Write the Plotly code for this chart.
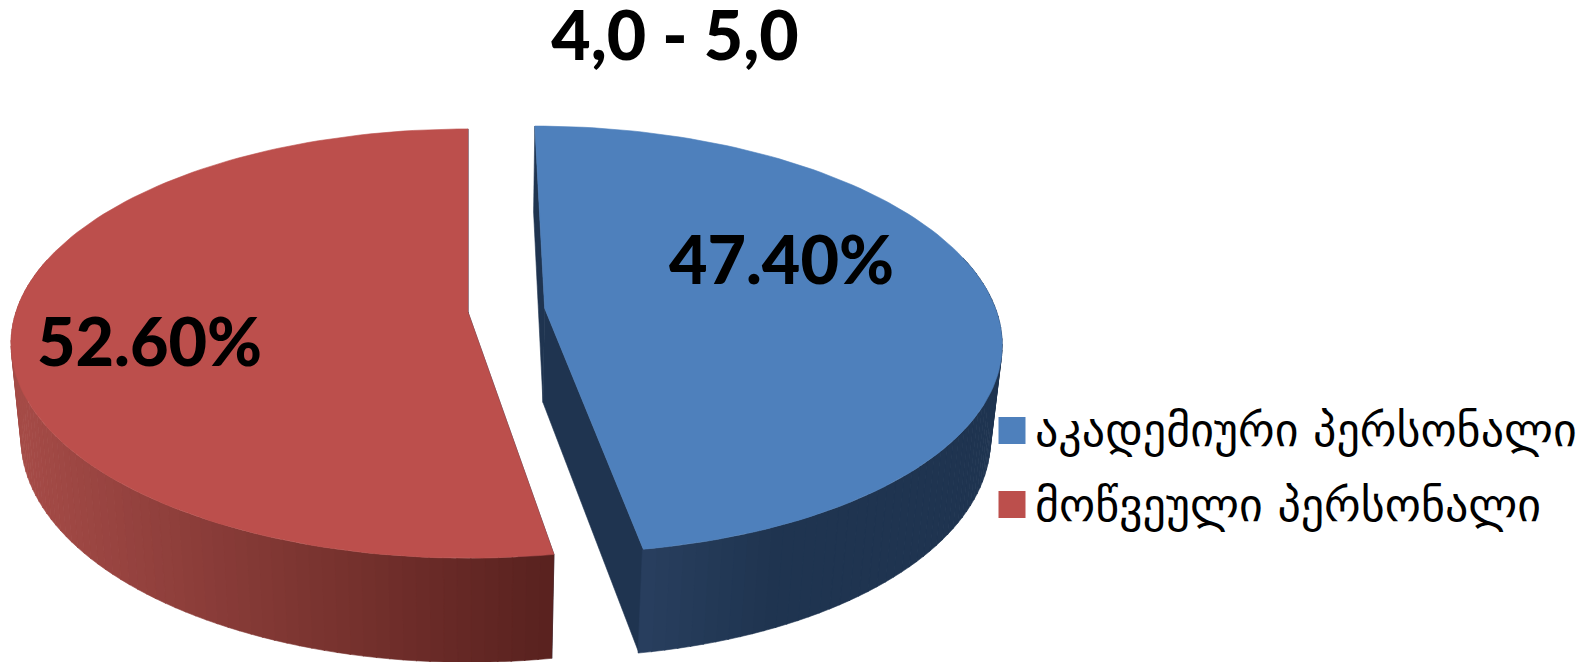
import math
import plotly.graph_objects as go

# ---- data ----
categories = ["აკადემიური პერსონალი", "მოწვეული პერსონალი"]
shares = [47.40, 52.60]
title_text = "4,0 - 5,0"

# ---- style ----
TOP = ["#4E80BC", "#BC4F4C"]
FACE = "#1F3450"
WALL = [((42, 64, 96), (31, 52, 80), 635, 780), ((165, 75, 71), (90, 34, 31), 20, 550)]
CENTER = [(0.170, -0.018), (0.0, 0.0)]
LABEL_POLAR = [(0.581, 69.9), (0.708, 255.9)]
KEY_X, TEXT_X, KEY_Y, TEXT_Y = 1012, 1035, [430.5, 504.5], [434.5, 509.5]

# projection of the tilted pie onto the axes
XP, YP, R, KR, P = 468.0, 312.0, 452.0, 210.0, 0.147
Q, C = 0.022, 96.5


def project(X, Y, low=False):
    w = 1 - P * Y + (Q if low else 0)
    return XP + R * X / w, YP + (KR * Y + (C if low else 0)) / w


def rim(c, t):
    a = math.radians(t)
    return c[0] + math.sin(a), c[1] - math.cos(a)


def mix(a, b, u):
    u = max(0, min(1, u))
    return "rgb(%d,%d,%d)" % tuple(round(a[i] + (b[i] - a[i]) * u) for i in range(3))


fig = go.Figure()


def poly(pts, color):
    fig.add_trace(go.Scatter(
        x=[p[0] for p in pts] + [pts[0][0]], y=[p[1] for p in pts] + [pts[0][1]],
        mode="lines", line=dict(width=0.6, color=color), fill="toself", fillcolor=color,
        showlegend=False, hoverinfo="skip"))


total = sum(shares)
start = 0.0
spans = []
for v in shares:
    spans.append((start, start + 360 * v / total))
    start += 360 * v / total

for i, (a0, a1) in enumerate(spans):
    c = CENTER[i]
    # cut faces (seen on the detached slice)
    for t in (a0, a1):
        e = rim(c, t)
        poly([project(*c), project(*e), project(*e, True), project(*c, True)], FACE)
    # curved wall in narrow strips
    n = int((a1 - a0) / 1.5)
    for k in range(n):
        t0 = a0 + (a1 - a0) * k / n
        t1 = a0 + (a1 - a0) * (k + 1) / n + 0.1
        p0, p1 = rim(c, t0), rim(c, t1)
        if max(p0[1], p1[1]) < -0.25:
            continue
        lo, hi, xa, xb = WALL[i][0], WALL[i][1], WALL[i][2], WALL[i][3]
        sx = project(*p0)[0]
        poly([project(*p0), project(*p1), project(*p1, True), project(*p0, True)],
             mix(lo, hi, (sx - xa) / (xb - xa)))
    # top surface
    top = [project(*c)]
    m = 120
    for k in range(m + 1):
        top.append(project(*rim(c, a0 + (a1 - a0) * k / m)))
    poly(top, TOP[i])

# data labels
for i, v in enumerate(shares):
    r, t = LABEL_POLAR[i]
    a = math.radians(t)
    lx, ly = project(CENTER[i][0] + r * math.sin(a), CENTER[i][1] - r * math.cos(a))
    fig.add_trace(go.Scatter(
        x=[lx], y=[ly], mode="text", text=[f"{v:.2f}%"], textposition="middle center",
        textfont=dict(family="Lato", size=66.5, color="#000000", weight=900),
        showlegend=False, hoverinfo="skip"))

# legend keys and entries (plotly's own legend cannot draw keys this large)
fig.add_trace(go.Scatter(
    x=[KEY_X] * len(categories), y=KEY_Y, mode="markers",
    marker=dict(symbol="square", size=27, color=TOP, line=dict(width=0)),
    showlegend=False, hoverinfo="skip"))
fig.add_trace(go.Scatter(
    x=[TEXT_X] * len(categories), y=TEXT_Y, mode="text", text=categories, textposition="middle right",
    textfont=dict(family="DejaVu Sans", size=46, color="#000000"),
    showlegend=False, hoverinfo="skip"))

fig.update_layout(
    width=1594, height=662, margin=dict(l=0, r=0, t=0, b=0),
    paper_bgcolor="#FFFFFF", plot_bgcolor="#FFFFFF", showlegend=False,
    xaxis=dict(range=[0, 1594], visible=False, fixedrange=True),
    yaxis=dict(range=[662, 0], visible=False, fixedrange=True),
    title=dict(text=title_text, x=675 / 1594, xanchor="center", y=1 - 36 / 662, yanchor="middle",
               font=dict(family="Lato", size=68, color="#000000", weight=900)),
)

fig.write_html("out.html", config={"displayModeBar": False},
               post_script="document.body.style.margin='0';document.body.style.overflow='hidden';")
